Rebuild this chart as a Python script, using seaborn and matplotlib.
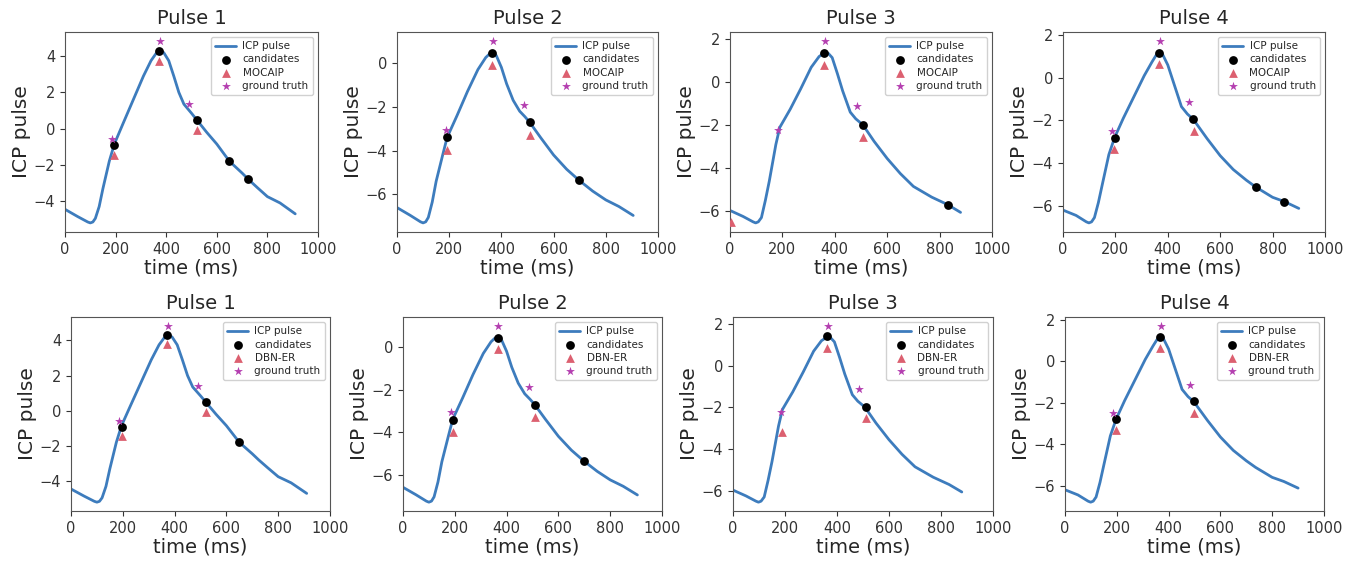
import matplotlib
matplotlib.use("Agg")
import matplotlib.pyplot as plt
import seaborn as sns

# === ICP pulse curves (time in ms, ICP pulse) ===
pulse_t = [
    [0, 50, 90, 100, 110, 120, 135, 150, 175, 195, 230, 270, 310, 340, 360, 375, 390, 410,
     430, 450, 470, 500, 520, 560, 600, 650, 700, 725, 760, 800, 850, 910],
    [0, 50, 90, 100, 110, 120, 135, 150, 175, 192, 230, 270, 310, 340, 355, 365, 380, 400,
     420, 445, 470, 490, 508, 550, 600, 650, 697, 750, 800, 850, 905],
    [0, 50, 88, 98, 108, 120, 135, 150, 175, 190, 230, 270, 310, 340, 360, 375, 390, 410,
     430, 459, 480, 507, 550, 600, 650, 700, 770, 831, 880],
    [0, 50, 89, 99, 109, 120, 135, 150, 175, 197, 230, 270, 310, 340, 355, 365, 380, 400,
     420, 452, 475, 497, 550, 600, 650, 700, 736, 800, 845, 900],
]
pulse_y = [
    [-4.45, -4.85, -5.15, -5.2, -5.15, -4.95, -4.3, -3.3, -1.8, -0.85, 0.3, 1.6, 2.9, 3.75, 4.15, 4.28, 4.2, 3.75,
     2.9, 2.0, 1.35, 0.85, 0.5, -0.2, -0.85, -1.8, -2.45, -2.8, -3.25, -3.75, -4.1, -4.7],
    [-6.6, -6.95, -7.25, -7.3, -7.25, -7.05, -6.35, -5.4, -4.2, -3.4, -2.4, -1.3, -0.3, 0.25, 0.42, 0.45, 0.35, -0.2,
     -0.95, -1.7, -2.2, -2.45, -2.7, -3.4, -4.2, -4.85, -5.35, -5.85, -6.25, -6.55, -6.96],
    [-5.97, -6.25, -6.5, -6.55, -6.5, -6.3, -5.5, -4.6, -2.9, -2.1, -1.25, -0.3, 0.7, 1.2, 1.37, 1.35, 1.15, 0.4,
     -0.4, -1.39, -1.7, -1.98, -2.75, -3.55, -4.25, -4.85, -5.35, -5.7, -6.06],
    [-6.2, -6.45, -6.75, -6.8, -6.75, -6.55, -5.85, -5.0, -3.6, -2.8, -1.9, -0.9, 0.1, 0.75, 1.05, 1.18, 1.1, 0.6,
     -0.15, -1.35, -1.7, -1.94, -2.85, -3.65, -4.3, -4.8, -5.12, -5.6, -5.8, -6.12],
]

# === Candidates (top row: MOCAIP, bottom row: DBN-ER) ===
cand_top_t = [[195, 370, 520, 650, 725], [192, 365, 508, 697], [360, 507, 831], [197, 365, 497, 736, 845]]
cand_top_y = [[-0.9, 4.28, 0.5, -1.8, -2.8], [-3.4, 0.45, -2.7, -5.35], [1.37, -1.98, -5.7], [-2.8, 1.18, -1.94, -5.12, -5.8]]
cand_bot_t = [[195, 370, 522, 650], [193, 365, 511, 698], [362, 510], [197, 367, 499]]
cand_bot_y = [[-0.9, 4.28, 0.49, -1.8], [-3.45, 0.42, -2.74, -5.38], [1.41, -1.96], [-2.8, 1.17, -1.92]]

# === Method predictions ===
mocaip_t = [[195, 370, 522], [193, 364, 508], [3, 360, 507], [195, 365, 499]]
mocaip_y = [[-1.45, 3.75, -0.05], [-3.97, -0.1, -3.27], [-6.5, 0.8, -2.53], [-3.32, 0.66, -2.5]]
dbner_t = [[195, 370, 522], [193, 365, 511], [188, 362, 510], [197, 367, 499]]
dbner_y = [[-1.44, 3.77, -0.08], [-4.0, -0.09, -3.29], [-3.19, 0.85, -2.52], [-3.31, 0.64, -2.48]]

# === Ground truth ===
gt_t = [[185, 375, 492], [186, 368, 488], [185, 364, 484], [186, 369, 481]]
gt_y = [[-0.57, 4.83, 1.38], [-3.05, 1.0, -1.9], [-2.24, 1.92, -1.12], [-2.5, 1.72, -1.14]]

titles = ["Pulse 1", "Pulse 2", "Pulse 3", "Pulse 4"]

sns.set_style("ticks")
plt.rcParams["font.family"] = ["DejaVu Sans"]

fig = plt.figure(figsize=(13.6, 5.62), dpi=100)
W, H = 1360, 562
# pixel boxes (left, right) per column, (top, bottom) per row
cols_top = [(65, 318), (397, 658), (730, 992), (1063, 1325)]
cols_bot = [(71, 330), (403, 662), (733, 993), (1065, 1324)]
rows = [(32, 232), (317, 511)]

line_color = "#3d7cbd"
tri_color = "#dc6070"
star_color = "#b43fb0"

for r in range(2):
    cols = cols_top if r == 0 else cols_bot
    top, bot = rows[r]
    for i in range(4):
        l, rr = cols[i]
        ax = fig.add_axes([l / W, (H - bot) / H, (rr - l) / W, (bot - top) / H])
        sns.lineplot(x=pulse_t[i], y=pulse_y[i], ax=ax, color=line_color, lw=2,
                     label="ICP pulse", sort=False)
        if r == 0:
            ct, cy = cand_top_t[i], cand_top_y[i]
            mt, my, mname = mocaip_t[i], mocaip_y[i], "MOCAIP"
        else:
            ct, cy = cand_bot_t[i], cand_bot_y[i]
            mt, my, mname = dbner_t[i], dbner_y[i], "DBN-ER"
        sns.scatterplot(x=ct, y=cy, ax=ax, color="black", marker="o", s=40,
                        linewidth=0, label="candidates", zorder=3)
        sns.scatterplot(x=mt, y=my, ax=ax, color=tri_color, marker="^", s=40,
                        linewidth=0, label=mname, zorder=3)
        sns.scatterplot(x=gt_t[i], y=gt_y[i], ax=ax, color=star_color, marker="*", s=45,
                        linewidth=0, label="ground truth", zorder=3)
        ax.set_xlim(0, 1000)
        ax.set_xticks([0, 200, 400, 600, 800, 1000])
        ax.set_title(titles[i], fontsize=14)
        ax.set_xlabel("time (ms)", fontsize=14, labelpad=1)
        ax.set_ylabel("ICP pulse", fontsize=14.5, labelpad=2)
        ax.tick_params(labelsize=10.5, colors="#333333", length=3.5, width=0.8)
        for sp in ax.spines.values():
            sp.set_color("#555555")
        ax.legend(loc="upper right", fontsize=7.5, frameon=True, framealpha=0.9,
                  edgecolor="#cccccc", borderpad=0.4, labelspacing=0.3,
                  handletextpad=0.6)

plt.savefig("out.png", dpi=100)
plt.close()
